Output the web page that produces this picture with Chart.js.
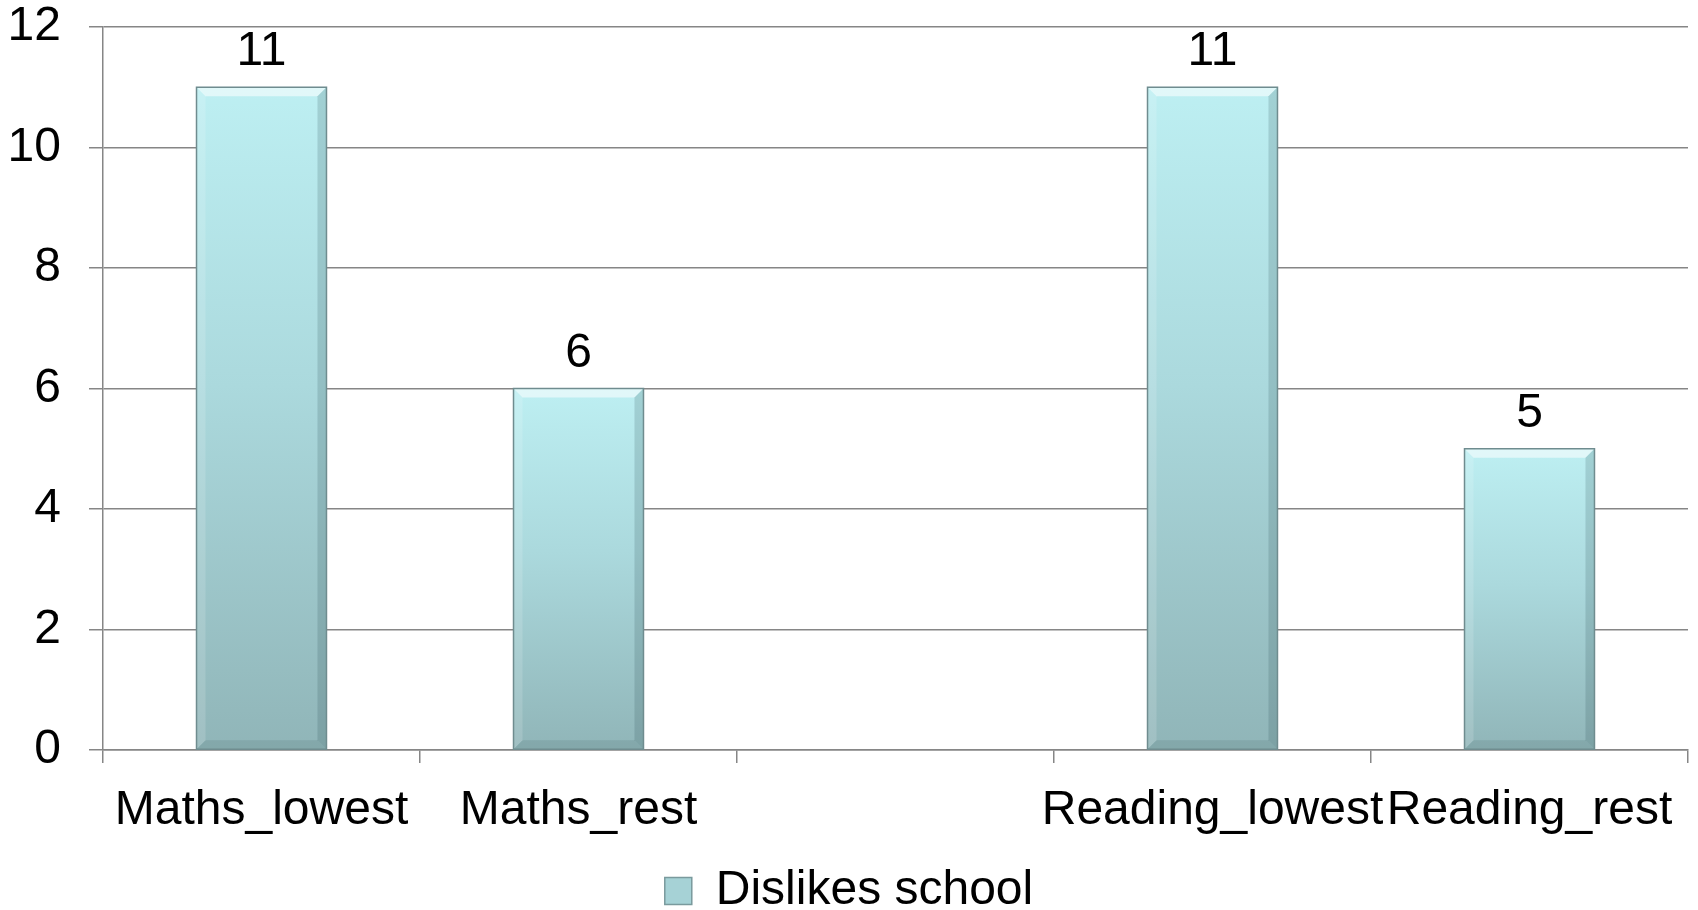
<!DOCTYPE html>
<html>
<head>
<meta charset="utf-8">
<script src="https://cdn.jsdelivr.net/npm/chart.js@4"></script>
<style>
  html, body { margin: 0; padding: 0; background: #fff; }
  #wrap { width: 1698px; height: 910px; }
</style>
</head>
<body>
<div id="wrap"><canvas id="dislikeChart" width="1698" height="910"></canvas></div>
<script>
// data
const categories = ['Maths_lowest', 'Maths_rest', '', 'Reading_lowest', 'Reading_rest'];
const dislikesSchool = [11, 6, null, 11, 5];
const seriesName = 'Dislikes school';
const yTicks = [0, 2, 4, 6, 8, 10, 12];

const FONT = "'Liberation Sans', Arial, sans-serif";
const FSIZE = 48;
const gridColor = '#868686';

// vertical gradient per bar, from value down to zero
function barFill(ctx) {
    const chart = ctx.chart;
    if (!chart.chartArea || ctx.raw == null) return '#a8d4d8';
    const y = chart.scales.y;
    const top = y.getPixelForValue(ctx.raw);
    const bottom = y.getPixelForValue(0);
    const g = chart.ctx.createLinearGradient(0, top, 0, bottom);
    g.addColorStop(0, '#bdeff2');
    g.addColorStop(0.45, '#abd9dd');
    g.addColorStop(1, '#90b5b8');
    return g;
}

// small bevel on the bars + value labels on top
const bevelAndLabels = {
    id: 'bevelAndLabels',
    afterDatasetsDraw(chart) {
        const c = chart.ctx;
        const meta = chart.getDatasetMeta(0);
        meta.data.forEach((bar, i) => {
            const v = dislikesSchool[i];
            if (v == null) return;
            const { x, y, base, width } = bar.getProps(['x', 'y', 'base', 'width'], true);
            const l = x - width / 2, r = x + width / 2, b = 9;
            c.save();
            // top highlight
            c.fillStyle = 'rgba(255,255,255,0.55)';
            c.beginPath();
            c.moveTo(l, y); c.lineTo(r, y); c.lineTo(r - b, y + b); c.lineTo(l + b, y + b);
            c.closePath(); c.fill();
            // left light edge
            c.fillStyle = 'rgba(255,255,255,0.15)';
            c.beginPath();
            c.moveTo(l, y); c.lineTo(l + b, y + b); c.lineTo(l + b, base - b); c.lineTo(l, base);
            c.closePath(); c.fill();
            // right dark edge
            c.fillStyle = 'rgba(40,70,75,0.18)';
            c.beginPath();
            c.moveTo(r, y); c.lineTo(r - b, y + b); c.lineTo(r - b, base - b); c.lineTo(r, base);
            c.closePath(); c.fill();
            // bottom dark edge
            c.fillStyle = 'rgba(40,70,75,0.12)';
            c.beginPath();
            c.moveTo(l, base); c.lineTo(l + b, base - b); c.lineTo(r - b, base - b); c.lineTo(r, base);
            c.closePath(); c.fill();
            // outline
            c.strokeStyle = '#6f8c8f';
            c.lineWidth = 1.5;
            c.strokeRect(l, y, width, base - y);
            // value label
            c.fillStyle = '#000';
            c.font = FSIZE + 'px ' + FONT;
            c.textAlign = 'center';
            c.textBaseline = 'alphabetic';
            c.fillText(String(v), x, y - 22);
            c.restore();
        });
    }
};

const chart = new Chart(document.getElementById('dislikeChart'), {
    type: 'bar',
    data: {
        labels: categories,
        datasets: [{
            label: seriesName,
            data: dislikesSchool,
            backgroundColor: barFill,
            borderWidth: 0,
            barPercentage: 0.41,
            categoryPercentage: 1.0
        }]
    },
    options: {
        responsive: false,
        animation: false,
        layout: { padding: { left: 10, right: 10, top: 27, bottom: -15 } },
        plugins: {
            tooltip: { enabled: false },
            legend: {
                position: 'bottom',
                labels: {
                    color: '#000',
                    font: { family: FONT, size: FSIZE, lineHeight: 1.0 },
                    boxWidth: 27,
                    boxHeight: 27,
                    padding: 2,
                    generateLabels: () => [{
                        text: seriesName,
                        fillStyle: '#a6d2d6',
                        strokeStyle: '#7a9a9d',
                        lineWidth: 1.5,
                        datasetIndex: 0
                    }]
                }
            }
        },
        scales: {
            x: {
                offset: true,
                grid: {
                    offset: true,
                    drawOnChartArea: false,
                    color: gridColor,
                    tickLength: 13,
                    lineWidth: 1.5
                },
                border: { color: gridColor, width: 1.5 },
                ticks: {
                    color: '#000',
                    font: { family: FONT, size: FSIZE },
                    padding: 19,
                    maxRotation: 0,
                    autoSkip: false
                },
                afterFit: (axis) => {
                    axis.height = 115;
                    axis.paddingLeft = 0;
                    axis.paddingRight = 0;
                }
            },
            y: {
                min: 0,
                max: 12,
                afterBuildTicks: (axis) => { axis.ticks = yTicks.map(v => ({ value: v })); },
                grid: { color: gridColor, tickLength: 14, lineWidth: 1.5 },
                border: { color: gridColor, width: 1.5 },
                ticks: {
                    color: '#000',
                    font: { family: FONT, size: FSIZE },
                    padding: 28
                },
                afterFit: (axis) => {
                    axis.width = 93;
                    axis.paddingTop = 0;
                    axis.paddingBottom = 0;
                }
            }
        }
    },
    plugins: [bevelAndLabels]
});
</script>
</body>
</html>
